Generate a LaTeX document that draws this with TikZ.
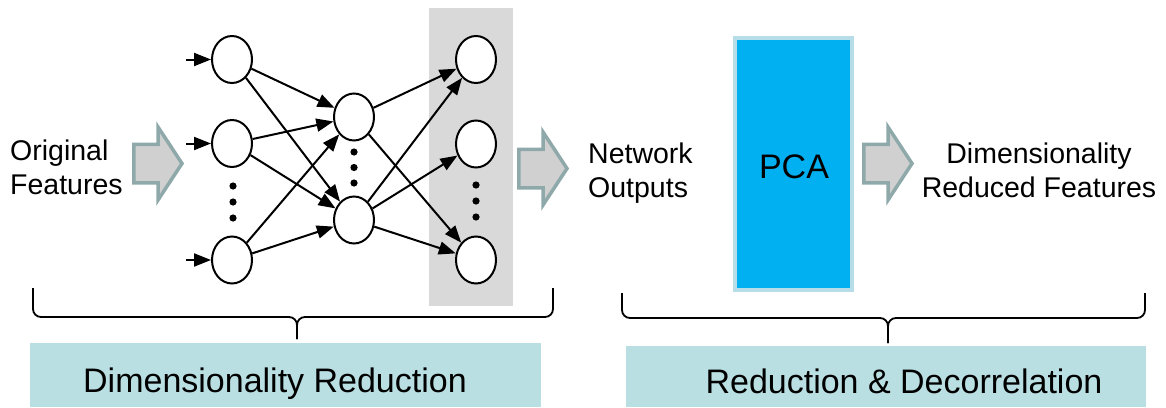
\documentclass[tikz,border=0pt]{standalone}
\usepackage{fontspec}
\setmainfont{Liberation Sans}
\usetikzlibrary{shapes.geometric,arrows.meta}

\definecolor{colgray}{RGB}{217,217,217}
\definecolor{arrfill}{RGB}{208,208,208}
\definecolor{arredge}{RGB}{143,169,171}
\definecolor{pcablue}{RGB}{0,176,240}
\definecolor{pcaedge}{RGB}{183,222,232}
\definecolor{tagfill}{RGB}{185,223,227}

\tikzset{
  neuron/.style={ellipse, draw, line width=2pt, fill=white,
    minimum width=40pt, minimum height=47pt, inner sep=0pt},
  edge/.style={line width=2pt, -{Triangle[length=17pt,width=13pt]}},
  lbl/.style={inner sep=0pt, font=\fontsize{28.5}{34}\selectfont},
  biglbl/.style={inner sep=0pt, font=\fontsize{34}{40}\selectfont},
  bracestyle/.style={line width=1.8pt, rounded corners=8pt},
  tagbox/.style={fill=tagfill, draw=none, inner sep=0pt},
  blockarrow/.pic={
    \draw[line width=3.5pt, draw=arredge, fill=arrfill, line join=miter]
      (1.75,-19.25) -- (26,-19.25) -- (26,-36.5) -- (50,0) -- (26,36.5)
      -- (26,19.25) -- (1.75,19.25) -- cycle;
  },
  dot/.pic={\fill (0,0) circle (3.6pt);}
}

\begin{document}
\begin{tikzpicture}[x=1pt, y=-1pt]
\useasboundingbox (0,0) rectangle (1166,407);

% shaded output column
\fill[colgray] (429,8) rectangle (513,306);

% input layer
\node[neuron] (a1) at (232,59.5) {};
\node[neuron] (a2) at (232,143.5) {};
\node[neuron] (a3) at (232,260) {};
% hidden layer
\node[neuron] (b1) at (354,117) {};
\node[neuron] (b2) at (354,220) {};
% output layer
\node[neuron] (c1) at (476,59.5) {};
\node[neuron] (c2) at (476,144) {};
\node[neuron] (c3) at (476,260) {};

% ellipsis dots
\foreach \y in {186,202,218} \pic at (233,\y) {dot};
\foreach \y in {152,167.5,183} \pic at (354,\y) {dot};
\foreach \y in {185,201,217} \pic at (476,\y) {dot};

% input arrows
\coordinate (i1) at (186,59.5);
\coordinate (i2) at (186,143.5);
\coordinate (i3) at (186,260);
\draw[edge] (i1) -- (a1);
\draw[edge] (i2) -- (a2);
\draw[edge] (i3) -- (a3);

% connections
\foreach \s in {a1,a2,a3}
  \foreach \t in {b1,b2}
    \draw[edge] (\s) -- (\t);
\draw[edge] (b1) -- (c1);
\draw[edge] (b1) -- (c3);
\draw[edge] (b2) -- (c1);
\draw[edge] (b2) -- (c2);
\draw[edge] (b2) -- (c3);

% block arrows
\pic (arrA) at (132,163.5) {blockarrow};
\pic (arrB) at (517,168.5) {blockarrow};
\pic (arrC) at (862,163.5) {blockarrow};

% text labels
\node[lbl, anchor=north west, align=left] (orig) at (10,140) {Original\\Features};
\node[lbl, anchor=north west, align=left] (netout) at (588,143) {Network\\Outputs};
\node[lbl, anchor=north, align=center] (reduced) at (1039,143) {Dimensionality\\Reduced Features};

% PCA block
\node[draw=pcaedge, line width=4pt, fill=pcablue, minimum width=117pt,
  minimum height=252pt, inner sep=0pt] (pca) at (793.5,164) {};
\node[biglbl, anchor=base] (pcatext) at (794,178) {PCA};

% braces
\draw[bracestyle] (33,288) -- (33,317) -- (297,317) -- (297,339);
\draw[bracestyle] (553,288) -- (553,317) -- (297,317) -- (297,339);
\draw[bracestyle] (622,293) -- (622,318) -- (888,318) -- (888,343);
\draw[bracestyle] (1145,293) -- (1145,318) -- (888,318) -- (888,343);

% caption boxes
\fill[tagfill] (30,343) rectangle (541,407);
\fill[tagfill] (626,346) rectangle (1146,407);
\node[biglbl, anchor=base] (capA) at (275,392) {Dimensionality Reduction};
\node[biglbl, anchor=base] (capB) at (904,393) {Reduction \& Decorrelation};
\end{tikzpicture}
\end{document}
